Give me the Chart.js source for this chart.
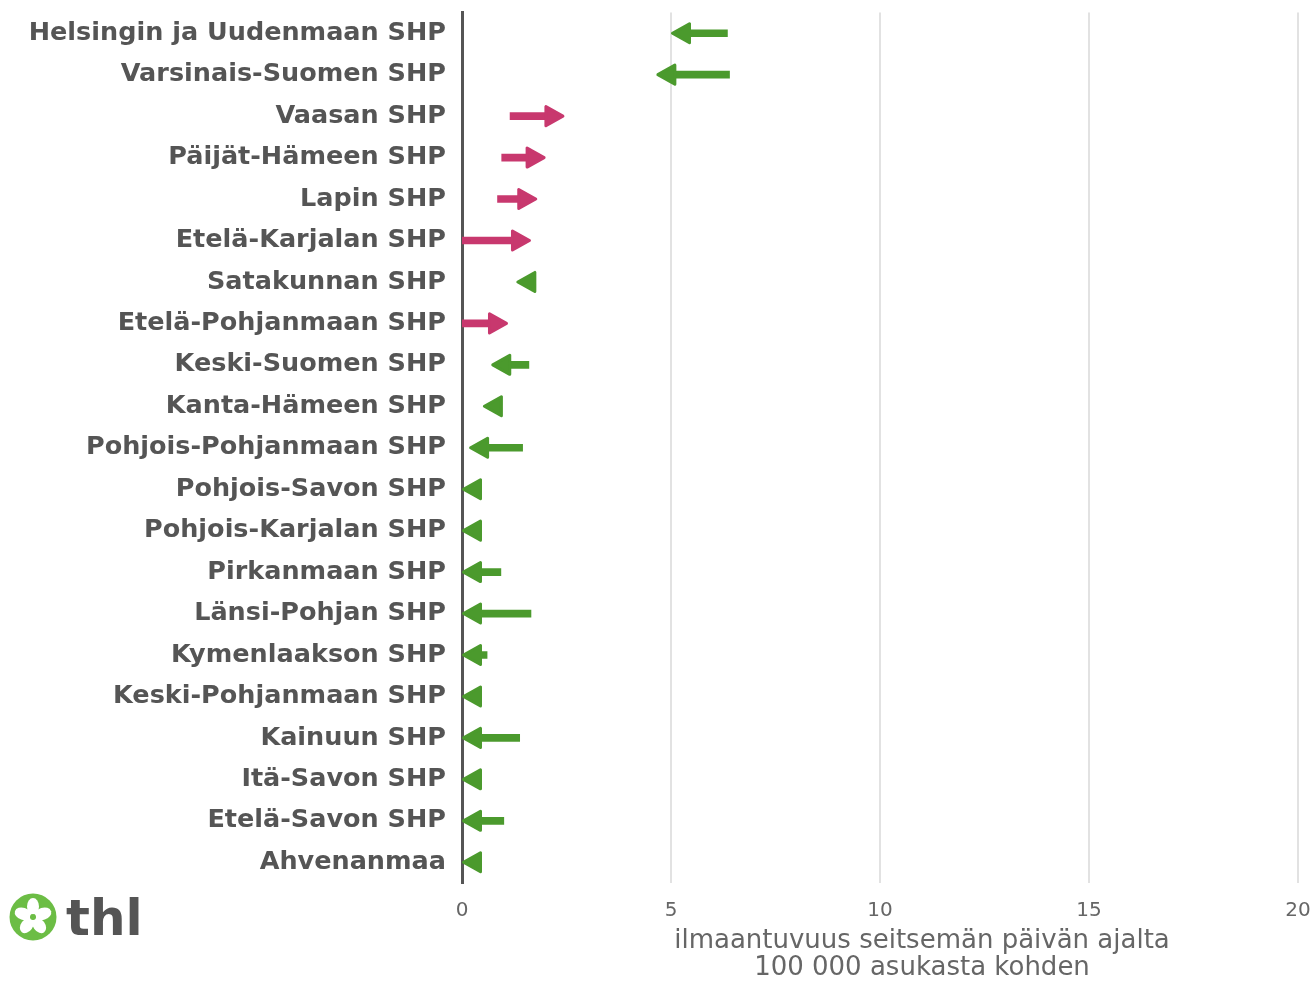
<!DOCTYPE html>
<html>
<head>
<meta charset="utf-8">
<script src="https://cdn.jsdelivr.net/npm/chart.js@4"></script>
<style>
html,body{margin:0;padding:0;background:#fff;}
#wrap{width:1316px;height:982px;}
</style>
</head>
<body>
<div id="wrap"><canvas id="c" width="1316" height="982"></canvas></div>
<script>
const regions = ["Helsingin ja Uudenmaan SHP","Varsinais-Suomen SHP","Vaasan SHP","Päijät-Hämeen SHP","Lapin SHP","Etelä-Karjalan SHP","Satakunnan SHP","Etelä-Pohjanmaan SHP","Keski-Suomen SHP","Kanta-Hämeen SHP","Pohjois-Pohjanmaan SHP","Pohjois-Savon SHP","Pohjois-Karjalan SHP","Pirkanmaan SHP","Länsi-Pohjan SHP","Kymenlaakson SHP","Keski-Pohjanmaan SHP","Kainuun SHP","Itä-Savon SHP","Etelä-Savon SHP","Ahvenanmaa"];
const previousWeek = [6.35,6.4,1.15,0.95,0.85,0,1.6,0,1.6,0.75,1.45,0.3,0.3,0.93,1.65,0.6,0.3,1.38,0.3,1.0,0.3];
const currentWeek  = [5.0,4.65,2.45,2.0,1.8,1.65,1.3,1.1,0.7,0.5,0.17,0,0,0,0,0,0,0,0,0,0];
const xTicks = [0,5,10,15,20];
const axisTitle = ["ilmaantuvuus seitsemän päivän ajalta","100 000 asukasta kohden"];

const UP = '#c8386e', DOWN = '#4b9a2d';
const HEAD_L = 20, HEAD_H = 11;
const colorFor = i => currentWeek[i] > previousWeek[i] ? UP : DOWN;

const arrowPlugin = {
  id: 'arrows',
  beforeDatasetDraw(chart, args) {
    if (args.index !== 0) return;
    const meta = args.meta, xs = chart.scales.x;
    meta.data.forEach((el, i) => {
      el._origX = el.x; el._origBase = el.base;
      const tip = xs.getPixelForValue(currentWeek[i]);
      const base = xs.getPixelForValue(previousWeek[i]);
      const dir = currentWeek[i] > previousWeek[i] ? 1 : -1;
      let nx = tip - dir * (HEAD_L - 3);
      if (dir * (nx - base) < 0) nx = base;
      el.base = base;
      el.x = nx;
    });
  },
  afterDatasetDraw(chart, args) {
    if (args.index !== 0) return;
    args.meta.data.forEach(el => { el.x = el._origX; el.base = el._origBase; });
    const ctx = chart.ctx, xs = chart.scales.x, ys = chart.scales.y;
    ctx.save();
    regions.forEach((r, i) => {
      const tip = xs.getPixelForValue(currentWeek[i]);
      const y = ys.getPixelForValue(i);
      const dir = currentWeek[i] > previousWeek[i] ? 1 : -1;
      const c = colorFor(i);
      const t = tip - dir * 1.5;
      const b = tip - dir * (HEAD_L - 1.5);
      ctx.beginPath();
      ctx.moveTo(t, y);
      ctx.lineTo(b, y - HEAD_H + 1.5);
      ctx.lineTo(b, y + HEAD_H - 1.5);
      ctx.closePath();
      ctx.fillStyle = c; ctx.strokeStyle = c;
      ctx.lineWidth = 3; ctx.lineJoin = 'round';
      ctx.fill(); ctx.stroke();
    });
    ctx.restore();
  }
};

const extrasPlugin = {
  id: 'extras',
  afterDraw(chart) {
    const ctx = chart.ctx;
    ctx.save();
    // axis title
    ctx.fillStyle = '#666';
    ctx.font = '26px "DejaVu Sans"';
    ctx.textAlign = 'center';
    ctx.textBaseline = 'middle';
    ctx.fillText(axisTitle[0], 922, 941);
    ctx.fillText(axisTitle[1], 922, 968);
    // logo
    const cx = 33, cy = 917;
    ctx.beginPath(); ctx.arc(cx, cy, 23.5, 0, Math.PI * 2);
    ctx.fillStyle = '#6cbd45'; ctx.fill();
    ctx.fillStyle = '#fff';
    for (let k = 0; k < 5; k++) {
      const a = -Math.PI / 2 + k * 2 * Math.PI / 5;
      ctx.beginPath();
      ctx.ellipse(cx + Math.cos(a) * 10.5, cy + Math.sin(a) * 10.5, 8.5, 6, a, 0, Math.PI * 2);
      ctx.fill();
    }
    ctx.beginPath(); ctx.arc(cx, cy, 3, 0, Math.PI * 2); ctx.fillStyle = '#6cbd45'; ctx.fill();
    ctx.fillStyle = '#555';
    ctx.font = 'bold 50px "DejaVu Sans"';
    ctx.textAlign = 'left';
    ctx.textBaseline = 'alphabetic';
    ctx.fillText('thl', 66, 935);
    ctx.restore();
  }
};

new Chart(document.getElementById('c'), {
  type: 'bar',
  data: {
    labels: regions,
    datasets: [{
      data: regions.map((r, i) => [previousWeek[i], currentWeek[i]]),
      backgroundColor: regions.map((r, i) => colorFor(i)),
      borderWidth: 0,
      barThickness: 7,
      borderSkipped: false
    }]
  },
  plugins: [arrowPlugin, extrasPlugin],
  options: {
    indexAxis: 'y',
    responsive: false,
    animation: false,
    devicePixelRatio: 1,
    layout: { padding: { top: 12.5, right: 18, left: 0, bottom: 0 } },
    plugins: { legend: { display: false }, tooltip: { enabled: false } },
    scales: {
      x: {
        type: 'linear', min: 0, max: 20,
        afterBuildTicks: s => { s.ticks = xTicks.map(v => ({ value: v })); },
        afterFit: s => { s.height = 99; s.paddingLeft = 0; s.paddingRight = 0; },
        grid: {
          color: ctx => ctx.tick && ctx.tick.value === 0 ? 'rgba(0,0,0,0)' : '#e2e2e2',
          lineWidth: 2, drawTicks: false
        },
        border: { display: false },
        ticks: { color: '#666', font: { family: 'DejaVu Sans', size: 20 }, padding: 16 }
      },
      y: {
        afterFit: s => { s.width = 462; s.paddingTop = 0; s.paddingBottom = 0; },
        grid: { display: false, drawTicks: false },
        border: { display: true, color: '#555', width: 3 },
        ticks: { color: '#555', font: { family: 'DejaVu Sans', size: 25.5, weight: 'bold' }, padding: 16 }
      }
    }
  }
});
</script>
</body>
</html>
